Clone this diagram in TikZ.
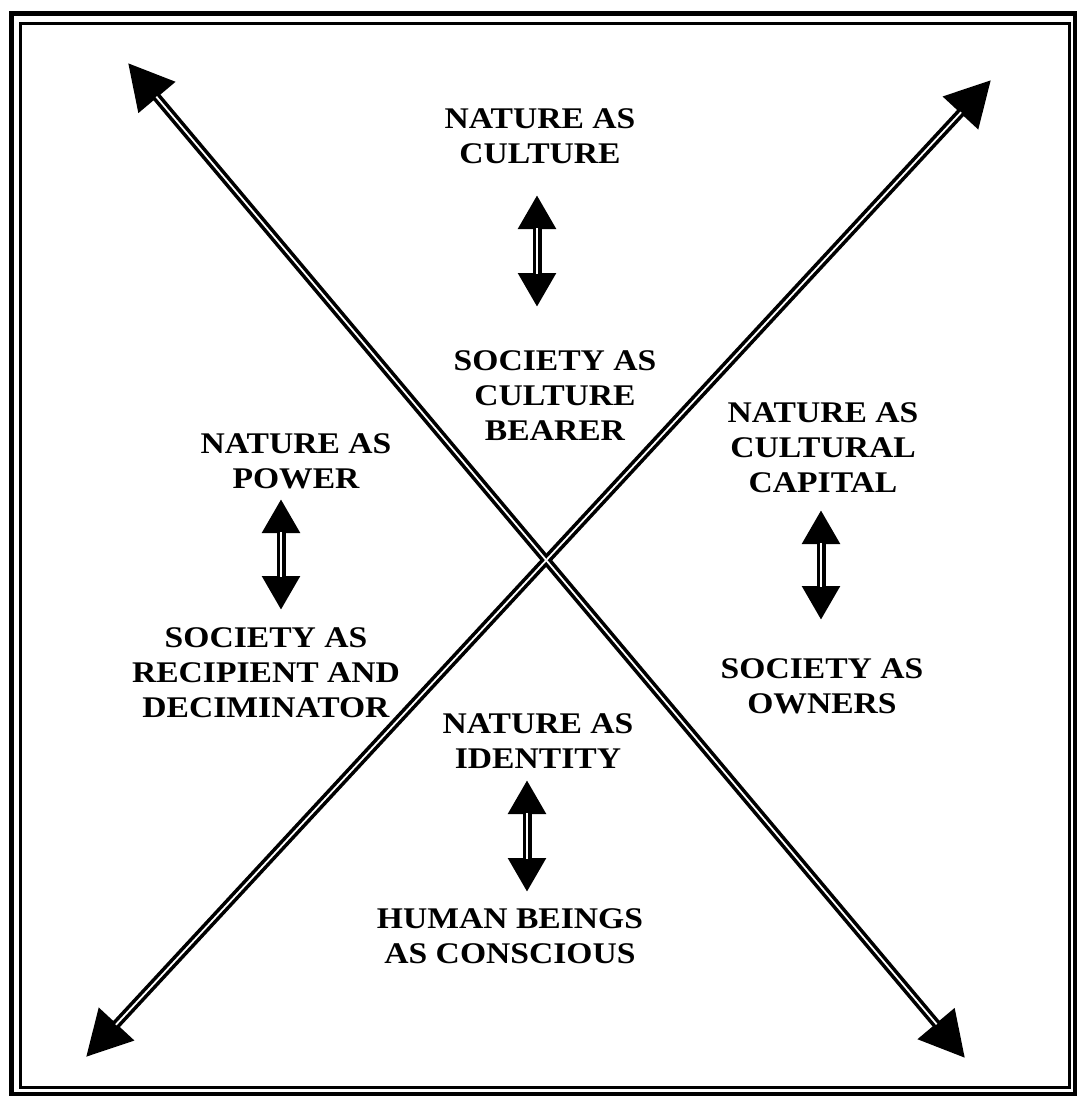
\documentclass[tikz,border=0pt]{standalone}
\usepackage{fontspec}
\setmainfont{Liberation Serif}[FakeStretch=1.12]
\usetikzlibrary{arrows.meta}

\begin{document}
\begin{tikzpicture}[
            x = 1pt, y = -1pt, % pixel grid, y grows downwards
            big/.style = {line width=9pt, {Triangle[length=45pt,width=46pt]}-{Triangle[length=45pt,width=46pt]}},
            bigcore/.style = {white, line width=1.8pt, shorten <=44pt, shorten >=44pt},
            small/.style = {line width=9pt, {Triangle[length=34pt,width=36pt]}-{Triangle[length=34pt,width=36pt]}},
            smallcore/.style = {white, line width=2.6pt, shorten <=33pt, shorten >=33pt},
            txt/.style = {align=center, inner sep=0pt, anchor=north,
                font=\fontsize{30}{35}\selectfont\bfseries}
        ]

        \useasboundingbox (0,0) rectangle (1077,1096);

        % double frame
        \draw[line width=5pt] (11.5,13.5) rectangle (1075,1094);
        \draw[line width=3pt] (20.5,23) rectangle (1069,1087);

        % the two big axes
        \coordinate (nw) at (128,63);
        \coordinate (se) at (965,1058);
        \coordinate (ne) at (991,80);
        \coordinate (sw) at (86,1057);

        \draw[big] (nw) -- (se);
        \draw[big] (ne) -- (sw);
        \draw[bigcore] (nw) -- (se);
        \draw[bigcore] (ne) -- (sw);

        % texts
        \node[txt] (natcult) at (540,108) {NATURE AS\\CULTURE};
        \node[txt] (soccult) at (555,350) {SOCIETY AS\\CULTURE\\BEARER};
        \node[txt] (natpow) at (296,433) {NATURE AS\\POWER};
        \node[txt] (socrec) at (266,627) {SOCIETY AS\\RECIPIENT AND\\DECIMINATOR};
        \node[txt] (natcap) at (823,402) {NATURE AS\\CULTURAL\\CAPITAL};
        \node[txt] (socown) at (822,658) {SOCIETY AS\\OWNERS};
        \node[txt] (natid) at (538,713) {NATURE AS\\IDENTITY};
        \node[txt] (human) at (510,908) {HUMAN BEINGS\\AS CONSCIOUS};

        % small two-way arrows
        \coordinate (cultA) at (537,195);
        \coordinate (cultB) at (537,307);
        \coordinate (powA) at (281,499);
        \coordinate (powB) at (281,610);
        \coordinate (capA) at (821,510);
        \coordinate (capB) at (821,620);
        \coordinate (idA) at (527,780);
        \coordinate (idB) at (527,892);

        \foreach \a/\b in {cultA/cultB, powA/powB, capA/capB, idA/idB} {
            \draw[small] (\a) -- (\b);
            \draw[smallcore] (\a) -- (\b);
        }

\end{tikzpicture}
\end{document}
